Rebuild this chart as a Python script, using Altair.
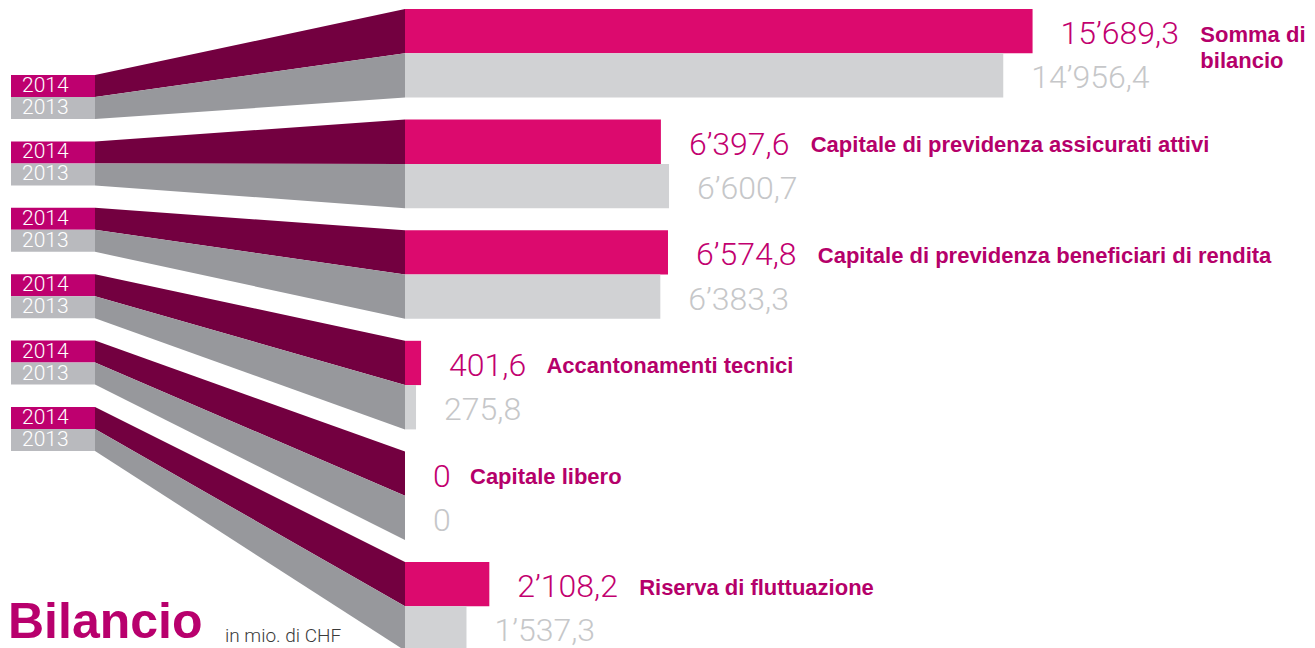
import altair as alt
import pandas as pd

# ---------------- data ----------------
categories = [
    "Somma di\nbilancio",
    "Capitale di previdenza assicurati attivi",
    "Capitale di previdenza beneficiari di rendita",
    "Accantonamenti tecnici",
    "Capitale libero",
    "Riserva di fluttuazione",
]
values_2014 = [15689.3, 6397.6, 6574.8, 401.6, 0, 2108.2]
values_2013 = [14956.4, 6600.7, 6383.3, 275.8, 0, 1537.3]
years = ["2014", "2013"]
title_text = "Bilancio"
unit_text = "in mio. di CHF"

# ---------------- styles ----------------
BAR_COL = {"2014": "#dc0a6e", "2013": "#d1d2d4"}
BAND_COL = {"2014": "#730040", "2013": "#97989c"}
BOX_COL = {"2014": "#be006f", "2013": "#b9babe"}
VAL_COL = {"2014": "#c2006f", "2013": "#c6c7c9"}
CAT_COL = "#b5006a"
TITLE_COL = "#b8006d"
SUB_COL = "#3a3a3a"
LIGHT_FONT = "Roboto"
BOLD_FONT = "Liberation Sans"

# ---------------- layout ----------------
W, H = 1299, 640
PX_PER_UNIT = 0.04          # pixels per million CHF
BAR_X0 = 397                # plot-x of the bars' zero line
ROW0, ROW_STEP, BAR_H = 1.0, 110.6, 44.3
BOX0, BOX_STEP, BOX_H = 67.0, 66.4, 22.0
BOX_X1, BOX_X2 = 3.0, 87.0
VAL_DX = 28
VAL_FS = 32
CAT_GAP = 19


def px(p):
    """plot pixel -> value units of the x scale"""
    return (p - BAR_X0) / PX_PER_UNIT


def fmt(v):
    if v == 0:
        return "0"
    return f"{v:,.1f}".replace(",", "’").replace(".", ",")


def text_w(s):
    w = 0.0
    for ch in s:
        w += 0.5625 * VAL_FS if ch.isdigit() else 0.2 * VAL_FS
    return w


vals = {"2014": values_2014, "2013": values_2013}

bar_rows, box_rows, band_rows, cat_rows = [], [], [], []
for i, cat in enumerate(categories):
    for s, yr in enumerate(years):
        v = vals[yr][i]
        top = ROW0 + i * ROW_STEP + s * BAR_H
        btop = BOX0 + i * BOX_STEP + s * BOX_H
        bar_rows.append(dict(cat=cat, year=yr, value=v, base=0.0, top=top,
                             bottom=top + BAR_H, mid=top + BAR_H / 2,
                             label=fmt(v)))
        box_rows.append(dict(year=yr, x1=px(BOX_X1), x2=px(BOX_X2), top=btop,
                             bottom=btop + BOX_H, mid=btop + BOX_H / 2,
                             tx=px(BOX_X1 + 11)))
        key = f"{i}-{yr}"
        band_rows.append(dict(key=key, year=yr, x=px(BOX_X2), y=btop, y2=btop + BOX_H))
        band_rows.append(dict(key=key, year=yr, x=0.0, y=top, y2=top + BAR_H))
    v = values_2014[i]
    mid = ROW0 + i * ROW_STEP + BAR_H / 2
    off = VAL_DX + text_w(fmt(v)) + CAT_GAP
    cat_rows.append(dict(cat=cat, x=v + off / PX_PER_UNIT, mid=mid))

bars = pd.DataFrame(bar_rows)
boxes = pd.DataFrame(box_rows)
bands = pd.DataFrame(band_rows)
cats = pd.DataFrame(cat_rows)

xs = alt.Scale(domain=[px(0), px(W)], nice=False, zero=False)
ys = alt.Scale(domain=[0, H], reverse=True, nice=False, zero=False)


def X(f):
    return alt.X(f, type="quantitative", scale=xs, axis=None)


def Y(f):
    return alt.Y(f, type="quantitative", scale=ys, axis=None)


layers = []
for yr in years:
    layers.append(
        alt.Chart(bands[bands.year == yr]).mark_area(
            color=BAND_COL[yr], orient="vertical", strokeWidth=0
        ).encode(x=X("x"), y=Y("y"), y2="y2", detail="key:N")
    )
for yr in years:
    layers.append(
        alt.Chart(boxes[boxes.year == yr]).mark_rect(color=BOX_COL[yr]).encode(
            x=X("x1"), x2="x2", y=Y("top"), y2="bottom")
    )
    layers.append(
        alt.Chart(boxes[boxes.year == yr]).mark_text(
            text=yr, align="left", baseline="middle", font=LIGHT_FONT,
            fontWeight=300, fontSize=21, color="#ffffff"
        ).encode(x=X("tx"), y=Y("mid"))
    )
for yr in years:
    layers.append(
        alt.Chart(bars[bars.year == yr]).mark_rect(color=BAR_COL[yr]).encode(
            x=X("base"), x2="value", y=Y("top"), y2="bottom")
    )
    layers.append(
        alt.Chart(bars[bars.year == yr]).mark_text(
            align="left", baseline="middle", dx=VAL_DX, dy=3, font=LIGHT_FONT,
            fontWeight=300, fontSize=VAL_FS, color=VAL_COL[yr]
        ).encode(x=X("value"), y=Y("mid"), text="label:N")
    )

layers.append(
    alt.Chart(cats).mark_text(
        align="left", baseline="alphabetic", dy=10.5, font=BOLD_FONT,
        fontWeight="bold", fontSize=22, color=CAT_COL, lineBreak="\n",
        lineHeight=26
    ).encode(x=X("x"), y=Y("mid"), text="cat:N")
)

title_df = pd.DataFrame({"t": [title_text], "x": [px(0)], "y": [629.7]})
unit_df = pd.DataFrame({"t": [unit_text], "x": [px(217)], "y": [633.5]})
layers.append(
    alt.Chart(title_df).mark_text(
        align="left", baseline="alphabetic", font=BOLD_FONT, fontWeight="bold",
        fontSize=50, color=TITLE_COL
    ).encode(x=X("x"), y=Y("y"), text="t:N")
)
layers.append(
    alt.Chart(unit_df).mark_text(
        align="left", baseline="alphabetic", font=LIGHT_FONT, fontWeight=300,
        fontSize=19, color=SUB_COL
    ).encode(x=X("x"), y=Y("y"), text="t:N")
)

chart = alt.layer(*layers).properties(
    width=W, height=H, autosize="none", padding=0, background="#ffffff"
).configure_view(strokeOpacity=0)

chart.save("out.html", embed_options={"renderer": "svg", "actions": False})
